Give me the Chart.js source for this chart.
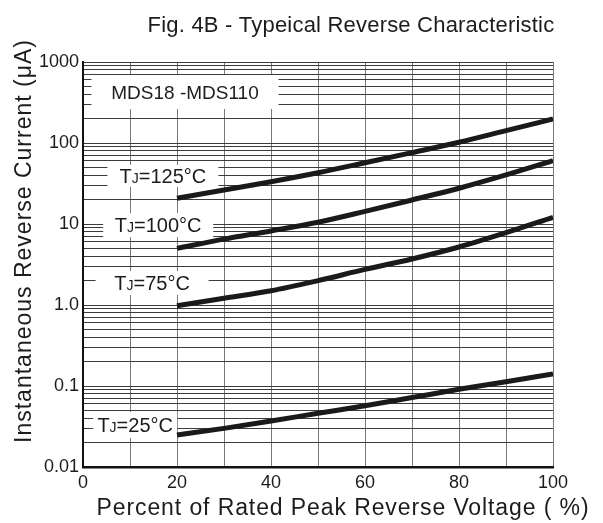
<!DOCTYPE html>
<html>
<head>
<meta charset="utf-8">
<script src="https://cdn.jsdelivr.net/npm/chart.js@4.4.1/dist/chart.umd.min.js"></script>
<style>
  html, body { margin: 0; padding: 0; background: #fff; }
  #wrap { width: 603px; height: 523px; }
</style>
</head>
<body>
<div id="wrap"><canvas id="chart" width="603" height="523"></canvas></div>
<script>
// data
const voltagePct = [20, 30, 40, 50, 60, 70, 80, 90, 100];
const tj125 = [20.8, 26.3, 33.3, 43, 57, 76, 102, 142, 198];
const tj100 = [5.0, 6.5, 8.2, 10.5, 14.3, 19.8, 27.6, 40.3, 60.5];
const tj75 = [0.98, 1.21, 1.5, 2.0, 2.75, 3.7, 5.2, 7.8, 12.1];
const tj25 = [0.0248, 0.030, 0.037, 0.046, 0.057, 0.072, 0.091, 0.113, 0.141];

const xTickLabels = ['0', '20', '40', '60', '80', '100'];
const yDecades = [0.01, 0.1, 1, 10, 100, 1000];
const yTickLabels = ['0.01', '0.1', '1.0', '10', '100', '1000'];

const FONT = '"Liberation Sans", Arial, sans-serif';
const INK = '#1c1c1c';

function series(vals) {
    return vals.map((v, i) => ({ x: voltagePct[i], y: v }));
}

// text boxes on the plot, placed in data coordinates
const notes = [
    { x: 21.7, y: 426, w: 187, h: 34, parts: [['MDS18 -MDS110', 19]] },
    { x: 17, y: 39.2, w: 111, h: 22, parts: [['T', 20], ['J', 14], ['=125°C', 20]] },
    { x: 16, y: 9.7, w: 110, h: 24, parts: [['T', 20], ['J', 14], ['=100°C', 20]] },
    { x: 14.7, y: 1.87, w: 113, h: 24, parts: [['T', 20], ['J', 14], ['=75°C', 20]] },
    { x: 11.1, y: 0.033, w: 84, h: 26, parts: [['T', 20], ['J', 14], ['=25°C', 20]] },
];

const decorations = {
    id: 'decorations',
    beforeDatasetsDraw(chart) {
        const ctx = chart.ctx;
        const xs = chart.scales.x, ys = chart.scales.y;
        ctx.save();
        notes.forEach(n => {
            const cx = xs.getPixelForValue(n.x);
            const cy = ys.getPixelForValue(n.y);
            ctx.fillStyle = '#fff';
            ctx.fillRect(cx - n.w / 2, cy - n.h / 2, n.w, n.h);
            let total = 0;
            n.parts.forEach(p => {
                ctx.font = p[1] + 'px ' + FONT;
                total += ctx.measureText(p[0]).width;
            });
            let px = cx - total / 2;
            ctx.fillStyle = INK;
            ctx.textBaseline = 'alphabetic';
            ctx.textAlign = 'left';
            n.parts.forEach(p => {
                ctx.font = p[1] + 'px ' + FONT;
                ctx.fillText(p[0], px, cy + 7);
                px += ctx.measureText(p[0]).width;
            });
        });
        ctx.restore();
    },
    afterDraw(chart) {
        const ctx = chart.ctx;
        ctx.save();
        ctx.fillStyle = INK;
        ctx.textAlign = 'center';
        ctx.textBaseline = 'alphabetic';
        ctx.letterSpacing = '0.2px';
        ctx.font = '22px ' + FONT;
        ctx.fillText('Fig. 4B - Typeical Reverse Characteristic', 351, 32);
        ctx.letterSpacing = '0.9px';
        ctx.font = '23px ' + FONT;
        ctx.fillText('Percent of Rated Peak Reverse Voltage ( %)', 343, 515);
        ctx.translate(31, 241);
        ctx.rotate(-Math.PI / 2);
        ctx.letterSpacing = '1px';
        ctx.fillText('Instantaneous Reverse Current (μA)', 0, 0);
        ctx.restore();
    }
};

const lineStyle = {
    borderColor: '#1a1a1a',
    borderWidth: 5,
    pointRadius: 0,
    fill: false,
    cubicInterpolationMode: 'monotone',
};

new Chart(document.getElementById('chart'), {
    type: 'line',
    data: {
        datasets: [
            { label: 'TJ=125°C', data: series(tj125), ...lineStyle },
            { label: 'TJ=100°C', data: series(tj100), ...lineStyle },
            { label: 'TJ=75°C', data: series(tj75), ...lineStyle },
            { label: 'TJ=25°C', data: series(tj25), ...lineStyle },
        ],
    },
    options: {
        responsive: false,
        devicePixelRatio: 1,
        animation: false,
        layout: { padding: { left: 0, top: 62, right: 50, bottom: 0 } },
        plugins: {
            legend: { display: false },
            tooltip: { enabled: false },
        },
        scales: {
            x: {
                type: 'linear',
                min: 0,
                max: 100,
                afterFit: (s) => { s.height = 56; },
                ticks: {
                    stepSize: 10,
                    autoSkip: false,
                    maxRotation: 0,
                    padding: 5,
                    color: INK,
                    font: { family: FONT, size: 18 },
                    callback: (v) => xTickLabels.includes(String(v)) ? String(v) : '',
                },
                grid: { color: '#7a7a7a', lineWidth: 1, drawTicks: false },
                border: { color: '#111', width: 2.5 },
            },
            y: {
                type: 'logarithmic',
                min: 0.01,
                max: 1000,
                afterFit: (s) => { s.width = 83; },
                afterBuildTicks: (s) => {
                    const t = [];
                    for (let d = 0; d < yDecades.length - 1; d++) {
                        for (let k = 1; k < 10; k++) t.push({ value: +(yDecades[d] * k).toPrecision(3) });
                    }
                    t.push({ value: yDecades[yDecades.length - 1] });
                    s.ticks = t;
                },
                ticks: {
                    autoSkip: false,
                    padding: 4,
                    color: INK,
                    font: { family: FONT, size: 18 },
                    callback: (v) => {
                        const i = yDecades.findIndex(d => Math.abs(d - v) < d * 1e-6);
                        return i >= 0 ? yTickLabels[i] : '';
                    },
                },
                grid: { color: '#3c3c3c', lineWidth: 1, drawTicks: false },
                border: { color: '#111', width: 2 },
            },
        },
    },
    plugins: [decorations],
});
</script>
</body>
</html>
